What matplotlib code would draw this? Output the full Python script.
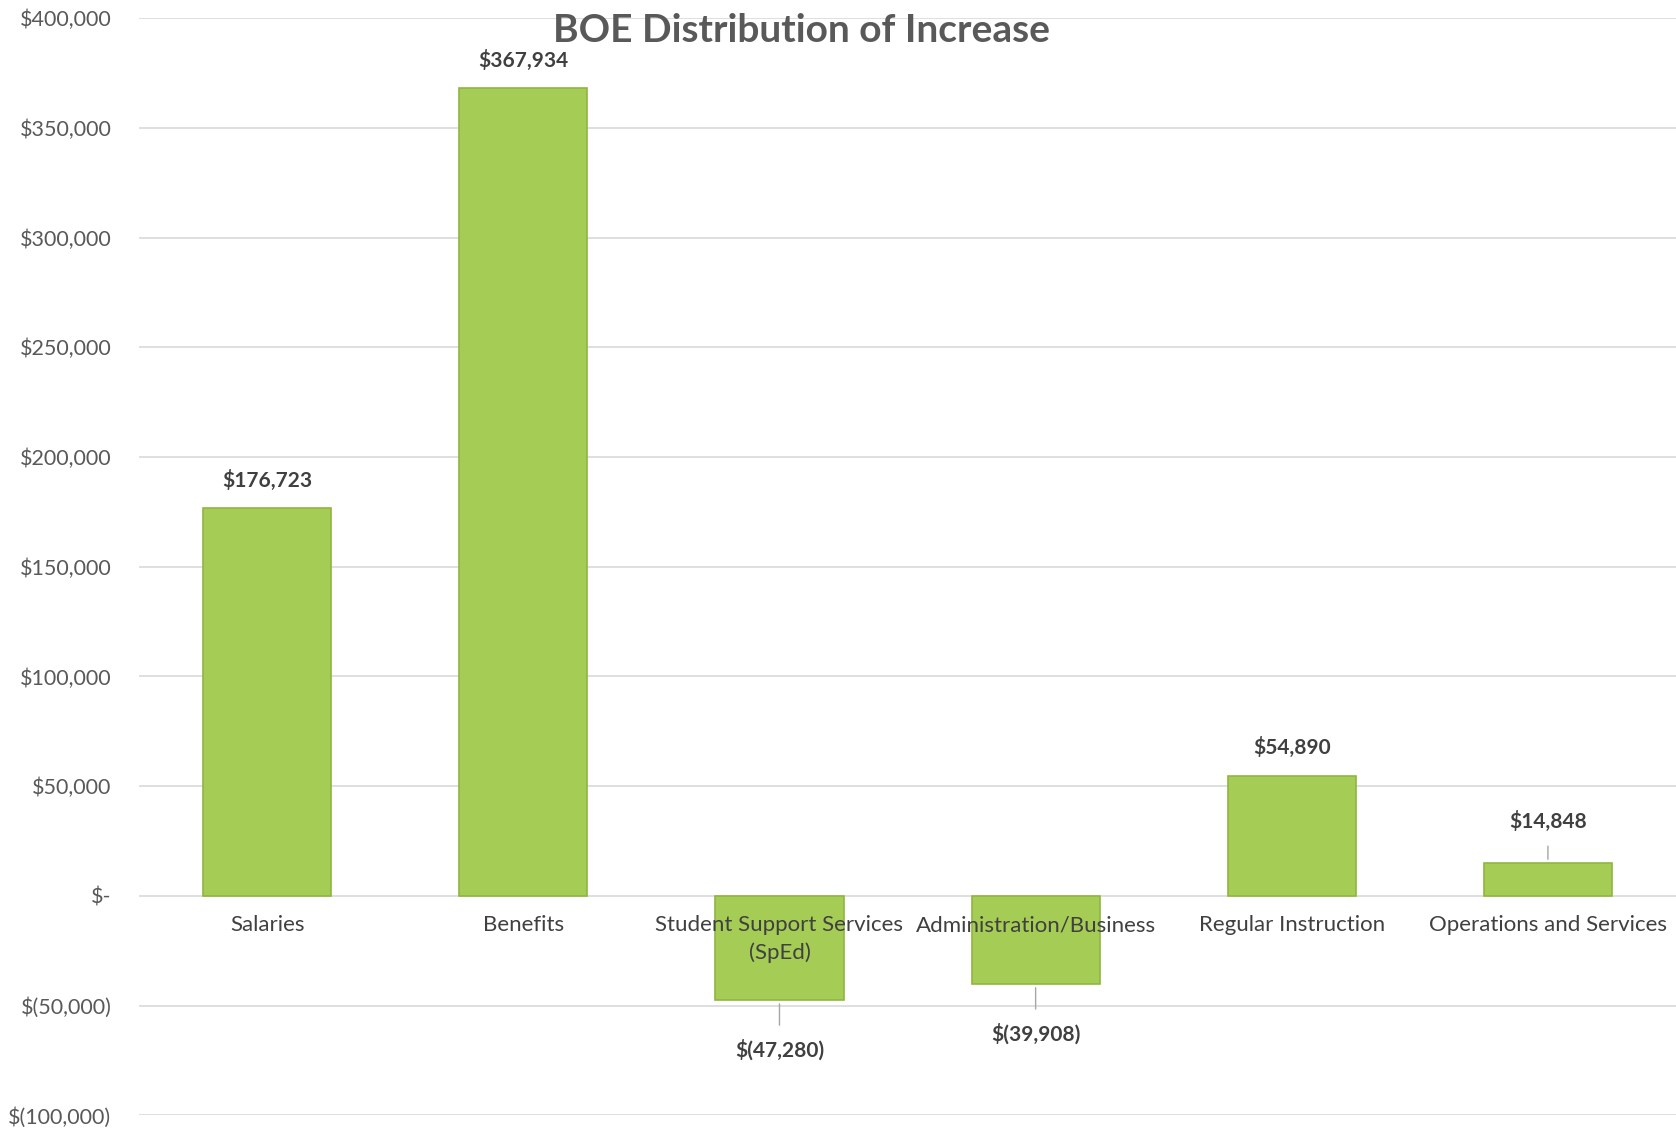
import matplotlib.pyplot as plt
from matplotlib.ticker import FuncFormatter

plt.rcParams['font.family'] = ['Lato', 'DejaVu Sans']

categories = ['Salaries', 'Benefits', 'Student Support Services\n(SpEd)',
              'Administration/Business', 'Regular Instruction',
              'Operations and Services']
increase = [176723, 367934, -47280, -39908, 54890, 14848]
value_labels = ['$176,723', '$367,934', '$(47,280)', '$(39,908)', '$54,890', '$14,848']


def money(v, pos=None):
    if v == 0:
        return '$-'
    if v < 0:
        return '$({:,.0f})'.format(-v)
    return '${:,.0f}'.format(v)


fig = plt.figure(figsize=(16.76, 11.29), dpi=100)
ax = fig.add_axes([0.083, 0.012, 0.917, 0.972])

x = range(len(categories))
bars = ax.bar(x, increase, width=0.5, color='#a5cc55', edgecolor='#8fb640',
              linewidth=1.2, zorder=2)

ax.set_ylim(-100000, 400000)
ax.set_xlim(-0.5, len(categories) - 0.5)
ax.set_yticks(range(-100000, 400001, 50000))
ax.yaxis.set_major_formatter(FuncFormatter(money))
ax.grid(axis='y', color='#d9d9d9', linewidth=1.2)

for s in ax.spines.values():
    s.set_visible(False)
ax.spines['bottom'].set_position(('data', 0))

# gridlines under the bars, category names over them
ax.yaxis.set_zorder(0.5)
ax.xaxis.set_zorder(5)

ax.set_xticks(list(x))
ax.set_xticklabels(categories, fontsize=16, color='#404040', linespacing=1.4)
ax.tick_params(axis='x', length=0, pad=14)
ax.tick_params(axis='y', length=0, pad=20, labelsize=15.5, labelcolor='#595959')

# value labels; small and negative bars get a leader line
offsets = [20, 20, -36, -36, 20, 30]
for i, (v, lab, off) in enumerate(zip(increase, value_labels, offsets)):
    leader = abs(off) > 25
    ax.annotate(lab, xy=(i, v), xytext=(0, off), textcoords='offset points',
                ha='center', va='center', fontsize=15, fontweight='bold',
                color='#404040',
                arrowprops=dict(arrowstyle='-', color='#a6a6a6', lw=1,
                                shrinkA=8, shrinkB=3) if leader else None)

fig.text(0.478, 0.973, 'BOE Distribution of Increase', ha='center', va='center',
         fontsize=28, fontweight='bold', color='#595959')

fig.savefig('out.png', dpi=100)
